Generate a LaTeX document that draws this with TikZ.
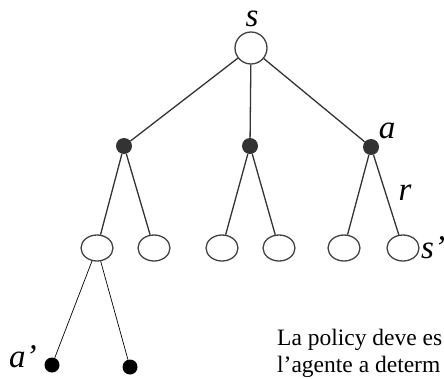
\documentclass[tikz,border=0pt]{standalone}
\usepackage{fontspec}
\setmainfont{Liberation Serif}
\usetikzlibrary{shapes.geometric}
\begin{document}
\begin{tikzpicture}[x=1pt,y=-1pt,
  state/.style={draw=black!75,line width=1.3pt,fill=white,ellipse,minimum width=32pt,minimum height=26pt,inner sep=0pt},
  root/.style={draw=black!75,line width=1.3pt,fill=white,circle,minimum size=32pt,inner sep=0pt},
  act/.style={circle,fill=black!80,minimum size=16pt,inner sep=0pt},
  act2/.style={circle,fill=black,minimum size=15pt,inner sep=0pt},
  edge/.style={draw=black!80,line width=1.3pt},
  thin edge/.style={draw=black,line width=0.7pt},
  lab/.style={inner sep=0pt,anchor=base,font=\fontsize{33}{33}\selectfont\itshape},
  body/.style={inner sep=0pt,anchor=base west,font=\fontsize{23.5}{27}\selectfont}]
\useasboundingbox (0,0) rectangle (444,378);
\clip (0,0) rectangle (444,378);
% root state and actions
\node[root] (s) at (251,48) {};
\node[act] (a1) at (124,146) {};
\node[act] (a2) at (250,146) {};
\node[act] (a3) at (371,147) {};
% successor states
\node[state] (s1) at (97,248) {};
\node[state] (s2) at (154,248) {};
\node[state] (s3) at (222,248) {};
\node[state] (s4) at (279,248) {};
\node[state] (s5) at (344,248) {};
\node[state] (s6) at (403,248) {};
% next actions
\node[act2] (b1) at (52,365) {};
\node[act2] (b2) at (130,367) {};
\draw[edge] (s) -- (a1);
\draw[edge] (s) -- (a2);
\draw[edge] (s) -- (a3);
\draw[edge] (a1) -- (s1);
\draw[edge] (a1) -- (s2);
\draw[edge] (a2) -- (s3);
\draw[edge] (a2) -- (s4);
\draw[edge] (a3) -- (s5);
\draw[edge] (a3) -- (s6);
\draw[thin edge] (s1) -- (b1);
\draw[thin edge] (s1) -- (b2);
% labels
\node[lab] (ls) at (252,26) {s};
\node[lab] (la) at (387,138) {a};
\node[lab] (lr) at (405,200) {r};
\node[lab,anchor=base west] (lsp) at (421,258) {s’};
\node[lab,anchor=base west] (lap) at (9,367) {a’};
\node[body] (t1) at (277,345) {La policy deve es};
\node[body] (t2) at (277,372) {l’agente a determ};
\end{tikzpicture}
\end{document}
